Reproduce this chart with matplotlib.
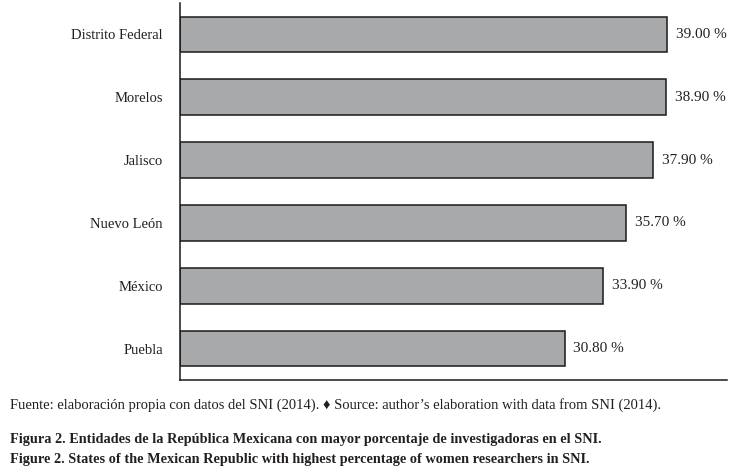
import matplotlib
matplotlib.use("Agg")
import matplotlib.pyplot as plt

states = ["Distrito Federal", "Morelos", "Jalisco", "Nuevo León", "México", "Puebla"]
values = [39.00, 38.90, 37.90, 35.70, 33.90, 30.80]
source_text = "Fuente: elaboración propia con datos del SNI (2014). \u2666 Source: author’s elaboration with data from SNI (2014)."
caption_es = "Figura 2. Entidades de la República Mexicana con mayor porcentaje de investigadoras en el SNI."
caption_en = "Figure 2. States of the Mexican Republic with highest percentage of women researchers in SNI."

plt.rcParams['font.family'] = ['Liberation Serif', 'DejaVu Serif']

fig = plt.figure(figsize=(7.4, 4.76), dpi=100)
W, H = 740, 476
left, right, top, bottom = 179.5, 727, 3, 380
ax = fig.add_axes([left / W, 1 - bottom / H, (right - left) / W, (bottom - top) / H])

ypos = list(range(len(states)))[::-1]
ax.barh(ypos, values, height=0.565, color="#a8a9ab", edgecolor="#1a1a1a", linewidth=1.1)
for y, v in zip(ypos, values):
    ax.text(v + 0.7, y, f"{v:.2f} %", va="center", ha="left", fontsize=11, color="#231f20")

ax.set_xlim(0, 43.8)
ax.set_ylim(-0.5, 5.5)
ax.set_yticks(ypos)
ax.set_yticklabels(states, fontsize=10.5, color="#231f20")
ax.tick_params(axis="y", length=0, pad=12)
ax.set_xticks([])
for s in ["top", "right"]:
    ax.spines[s].set_visible(False)
for s in ["left", "bottom"]:
    ax.spines[s].set_linewidth(1.1)
    ax.spines[s].set_color("#1a1a1a")

fig.text(10 / W, 1 - 405 / H, source_text, fontsize=10.5, va="center", ha="left", color="#231f20",
         family=['Liberation Serif', 'DejaVu Sans'])
fig.text(10 / W, 1 - 440 / H, caption_es, fontsize=10.3, fontweight="bold", va="center", ha="left", color="#231f20")
fig.text(10 / W, 1 - 459 / H, caption_en, fontsize=10.3, fontweight="bold", va="center", ha="left", color="#231f20")

fig.savefig("out.png", dpi=100)
